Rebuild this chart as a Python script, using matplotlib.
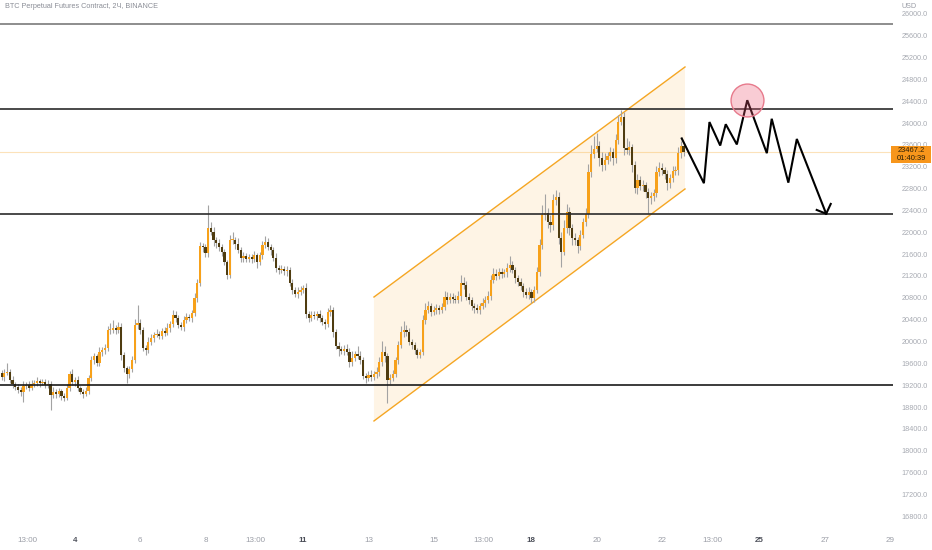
import numpy as np
import matplotlib
matplotlib.use("Agg")
import matplotlib.pyplot as plt
from matplotlib.patches import Polygon, Rectangle

# ---------------- data ----------------
start_day = 1.75          # first 2H candle (day of month, fractional)
step_day = 2 / 24         # 2H candles
first_open = 19420

closes = [
    19350, 19420, 19440, 19300, 19220, 19170, 19110, 19080, 19190, 19200, 19150, 19220,
    19240, 19280, 19240, 19260, 19200, 19220, 19020, 19080, 19040, 19090, 19000, 18970,
    19150, 19400, 19260, 19300, 19150, 19080, 19040, 19090, 19330, 19660, 19730, 19610,
    19810, 19840, 19880, 20210, 20210, 20250, 20210, 20270, 19750, 19510, 19400, 19500,
    19660, 20300, 20340, 20210, 19880, 19840, 19990, 20060, 20120, 20140, 20100, 20190,
    20160, 20250, 20320, 20490, 20430, 20300, 20270, 20390, 20450, 20430, 20520, 20800,
    21070, 21750, 21730, 21620, 22080, 22010, 21860, 21800, 21730, 21640, 21460, 21220,
    21860, 21860, 21790, 21680, 21530, 21570, 21510, 21550, 21510, 21580, 21460, 21580,
    21770, 21820, 21730, 21680, 21530, 21350, 21310, 21330, 21290, 21310, 21070, 20940,
    20870, 20910, 20940, 20980, 20500, 20430, 20490, 20470, 20500, 20430, 20360, 20320,
    20540, 20580, 20170, 19920, 19860, 19830, 19860, 19810, 19620, 19700, 19770, 19730,
    19660, 19370, 19330, 19390, 19350, 19400, 19440, 19620, 19810, 19730, 19300, 19330,
    19400, 19660, 19940, 20170, 20210, 20170, 19990, 19940, 19840, 19750, 19810, 20390,
    20580, 20650, 20540, 20580, 20610, 20580, 20630, 20820, 20760, 20820, 20780, 20760,
    20830, 21070, 21040, 20820, 20760, 20650, 20610, 20580, 20650, 20710, 20760, 20830,
    21130, 21240, 21200, 21270, 21240, 21270, 21350, 21400, 21310, 21160, 21090, 21020,
    20910, 20850, 20910, 20800, 20940, 21270, 21770, 22320, 22350, 22190, 22130, 22590,
    22650, 21900, 21640, 22080, 22370, 22080, 21900, 21860, 21750, 21950, 22190, 22340,
    23110, 23440, 23530, 23580, 23360, 23230, 23330, 23400, 23470, 23360, 23690, 24020,
    24110, 23550, 23510, 23560, 23230, 22810, 22960, 22850, 22870, 22740, 22630, 22670,
    22720, 23110, 23180, 23140, 23070, 22900, 23000, 23120, 23140, 23450, 23580, 23467.2,
]

upper_wick = [
    60, 80, 170, 50, 70, 40, 60, 50, 90, 60, 70, 80,
    50, 70, 40, 60, 50, 80, 60, 90, 50, 60, 40, 50,
    70, 60, 90, 50, 60, 40, 50, 70, 60, 80, 60, 50,
    90, 60, 70, 80, 130, 150, 60, 90, 70, 60, 50, 60,
    70, 120, 330, 80, 60, 50, 90, 70, 60, 80, 50, 60,
    70, 80, 60, 90, 70, 50, 60, 80, 70, 60, 50, 90,
    80, 70, 60, 50, 420, 110, 90, 60, 70, 60, 50, 40,
    90, 150, 60, 110, 50, 70, 60, 50, 60, 70, 50, 60,
    80, 120, 70, 60, 50, 90, 60, 80, 50, 70, 60, 70,
    60, 80, 70, 60, 90, 50, 60, 70, 60, 80, 50, 60,
    70, 90, 60, 50, 70, 60, 80, 90, 70, 130, 60, 140,
    90, 60, 50, 70, 80, 60, 90, 100, 190, 110, 60, 70,
    80, 60, 70, 110, 160, 90, 70, 60, 50, 40, 60, 90,
    120, 90, 60, 70, 80, 60, 70, 110, 80, 60, 70, 80,
    90, 150, 110, 70, 60, 50, 60, 70, 60, 80, 70, 90,
    80, 110, 90, 70, 80, 60, 90, 160, 70, 60, 50, 70,
    60, 70, 80, 60, 70, 90, 110, 180, 350, 90, 120, 120,
    130, 80, 110, 150, 140, 90, 70, 80, 60, 90, 80, 110,
    140, 160, 230, 240, 90, 110, 120, 80, 90, 70, 110, 130,
    130, 100, 170, 120, 60, 80, 110, 70, 90, 60, 70, 60,
    70, 110, 100, 90, 60, 80, 70, 90, 80, 120, 90, 60,
]

lower_wick = [
    50, 70, 40, 60, 80, 50, 60, 70, 190, 60, 50, 40,
    60, 50, 70, 40, 60, 50, 270, 60, 80, 50, 70, 60,
    40, 60, 50, 70, 60, 50, 70, 40, 60, 50, 80, 60,
    50, 70, 60, 50, 70, 60, 80, 50, 90, 60, 160, 60,
    50, 60, 80, 70, 60, 90, 50, 60, 70, 40, 60, 50,
    60, 50, 70, 60, 80, 50, 60, 70, 60, 50, 70, 60,
    80, 60, 90, 70, 80, 60, 110, 90, 70, 80, 60, 80,
    60, 70, 90, 60, 80, 70, 60, 50, 80, 60, 110, 60,
    70, 50, 60, 90, 60, 70, 80, 60, 70, 90, 60, 70,
    60, 80, 50, 60, 70, 80, 60, 50, 70, 80, 60, 90,
    60, 70, 80, 60, 120, 50, 80, 60, 90, 70, 60, 50,
    80, 60, 90, 60, 70, 50, 60, 80, 60, 110, 430, 70,
    60, 50, 80, 60, 90, 70, 60, 80, 70, 60, 50, 60,
    70, 60, 80, 60, 70, 80, 60, 50, 70, 60, 80, 60,
    60, 80, 70, 60, 80, 70, 90, 60, 70, 60, 80, 60,
    70, 60, 80, 60, 70, 60, 80, 70, 60, 90, 70, 80,
    90, 60, 80, 100, 70, 60, 70, 80, 90, 110, 130, 80,
    90, 110, 280, 60, 90, 120, 140, 100, 130, 80, 60, 70,
    80, 90, 70, 60, 140, 110, 90, 80, 100, 120, 90, 70,
    60, 140, 80, 100, 120, 90, 100, 80, 90, 110, 280, 120,
    90, 70, 80, 90, 100, 120, 90, 80, 70, 90, 80, 70,
]

levels = [25815, 24260, 22336, 19204]
level_colors = ["#7a7a7a", "#2b2b2b", "#2b2b2b", "#1a1a1a"]

channel_days = [13.17, 22.71]
channel_upper = [20815, 25029]
channel_lower = [18544, 22794]

proj_days = [22.61, 23.29, 23.46, 23.79, 23.96, 24.30, 24.62, 25.22, 25.37, 25.88, 26.14, 27.04]
proj_prices = [23720, 22900, 24020, 23590, 23980, 23610, 24420, 23450, 24080, 22910, 23710, 22340]
barb_days = [26.75, 27.18]
barb_prices = [22410, 22520]

circle_day = 24.62
circle_price = 24430

last_price = 23467.2
countdown = "01:40:39"

price_ticks = list(range(16800, 26001, 400))
time_ticks = [2 + 13 / 24, 4, 6, 8, 9 + 13 / 24, 11, 13, 15, 16 + 13 / 24, 18, 20, 22,
              23 + 13 / 24, 25, 27, 29]
time_labels = ["13:00", "4", "6", "8", "13:00", "11", "13", "15", "13:00", "18", "20", "22",
               "13:00", "25", "27", "29"]
week_labels = {"4", "11", "18", "25"}

title = "BTC Perpetual Futures Contract, 2Ч, BINANCE"

# ---------------- figure ----------------
FONT = ["Liberation Sans", "DejaVu Sans"]
plt.rcParams["font.family"] = FONT

W, H = 932, 550
fig = plt.figure(figsize=(W / 100, H / 100), dpi=100)
fig.patch.set_facecolor("white")
ax = fig.add_axes([0, 24 / H, 893 / W, 526 / H])
ax.set_xlim(1.699, 29.09)
ax.set_ylim(16620, 26256)
for s in ax.spines.values():
    s.set_visible(False)

c = np.array(closes, dtype=float)
o = np.concatenate([[first_open], c[:-1]])
t = start_day + np.arange(len(c)) * step_day
hi = np.maximum(o, c) + np.array(upper_wick)
lo = np.minimum(o, c) - np.array(lower_wick)
up = c >= o
up_col, dn_col, wick_col = "#f7a11a", "#4f3c10", "#a3a3a3"

# channel
poly = Polygon([(channel_days[0], channel_upper[0]), (channel_days[1], channel_upper[1]),
                (channel_days[1], channel_lower[1]), (channel_days[0], channel_lower[0])],
               closed=True, facecolor="#f7a21b", alpha=0.11, edgecolor="none", zorder=1)
ax.add_patch(poly)
ax.plot(channel_days, channel_upper, color="#f5a623", lw=1.0, zorder=2)
ax.plot(channel_days, channel_lower, color="#f5a623", lw=1.0, zorder=2)

# last price line
ax.axhline(last_price, color="#f7a21b", alpha=0.3, lw=0.8, zorder=1)

# candles
ax.vlines(t, lo, hi, color=wick_col, lw=0.8, zorder=3)
heights = np.maximum(np.abs(c - o), 12)
ax.bar(t, heights, bottom=np.minimum(o, c), width=0.068,
       color=np.where(up, up_col, dn_col), linewidth=0, zorder=4)

# horizontal levels
for lv, col in zip(levels, level_colors):
    ax.axhline(lv, color=col, lw=1.2, zorder=5)

# projection path
ax.plot(proj_days, proj_prices, color="black", lw=1.5, zorder=6, solid_joinstyle="miter")
ax.plot([barb_days[0], proj_days[-1], barb_days[1]],
        [barb_prices[0], proj_prices[-1], barb_prices[1]], color="black", lw=1.5, zorder=6)

# circle
ax.scatter([circle_day], [circle_price], s=560, facecolor=(0.93, 0.35, 0.45, 0.3),
           edgecolor="#e77a8c", linewidth=1, zorder=7)

# axes ticks
ax.yaxis.tick_right()
ax.set_yticks(price_ticks)
ax.set_yticklabels([f"{v:.1f}" for v in price_ticks])
ax.tick_params(axis="y", length=0, pad=6, labelsize=5.2, labelcolor="#a7aab2")
ax.set_xticks(time_ticks)
ax.set_xticklabels(time_labels)
ax.tick_params(axis="x", length=0, pad=8, labelsize=5.8, labelcolor="#9a9da6")
for lab in ax.get_xticklabels():
    if lab.get_text() in week_labels:
        lab.set_color("#4c4f59")
        lab.set_fontweight("bold")

# title and labels
fig.text(5 / W, 1 - 7 / H, title, fontsize=5.2, color="#8a8d96", va="center", ha="left")
fig.text(901 / W, 1 - 6 / H, "USD", fontsize=5.2, color="#9a9da6", va="center", ha="left",
         bbox=dict(facecolor="white", edgecolor="none", pad=1.2), zorder=6)

fig.add_artist(Rectangle((891 / W, 1 - 163 / H), 40 / W, 17 / H, transform=fig.transFigure,
                         facecolor="#f7961c", edgecolor="none", zorder=5))
fig.text(911 / W, 1 - 150.5 / H, f"{last_price:.1f}", fontsize=5.4, color="#2b1f06",
         ha="center", va="center", zorder=6)
fig.text(911 / W, 1 - 158.5 / H, countdown, fontsize=5.4, color="#2b1f06",
         ha="center", va="center", zorder=6)

fig.savefig("out.png", dpi=100, facecolor="white")
